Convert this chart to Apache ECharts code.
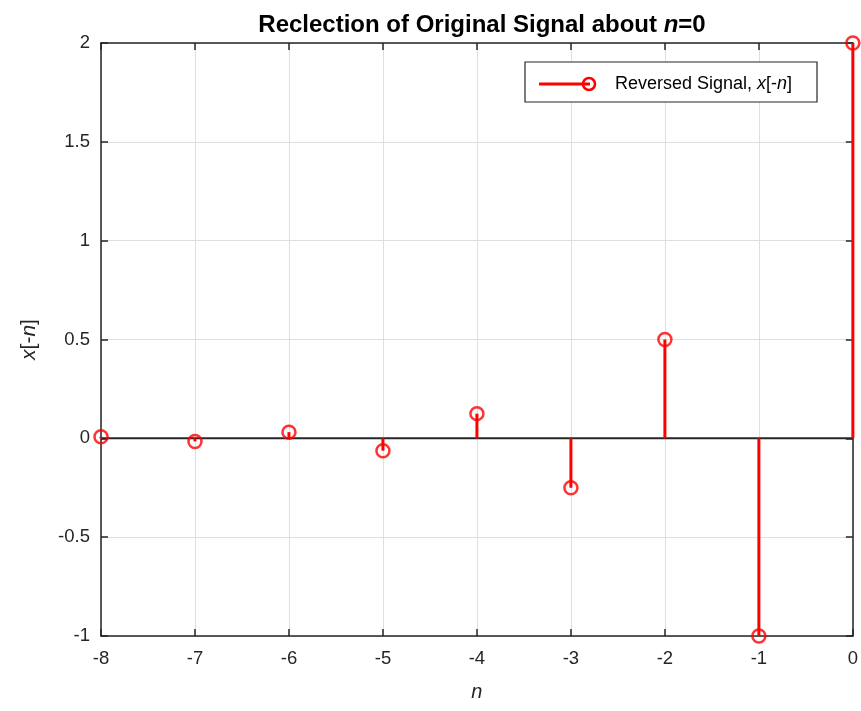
<!DOCTYPE html>
<html><head><meta charset="utf-8">
<script src="https://cdn.jsdelivr.net/npm/echarts@6/dist/echarts.min.js"></script>
<style>html,body{margin:0;padding:0;background:#fff}#c{width:861px;height:711px}</style>
</head><body><div id="c"></div>
<script>
const nValues = [-8, -7, -6, -5, -4, -3, -2, -1, 0];
const xValues = [0.0078, -0.0156, 0.0313, -0.0625, 0.125, -0.25, 0.5, -1, 2];
const xTicks = [-8, -7, -6, -5, -4, -3, -2, -1, 0];
const yTicks = [-1, -0.5, 0, 0.5, 1, 1.5, 2];
const legendLabel = 'Reversed Signal, ';

const FONT = '"Liberation Sans", Arial, sans-serif';
const AX = '#262626';
const RED = '#ff0000';
const pts = nValues.map((n, i) => [n, xValues[i]]);

const chart = echarts.init(document.getElementById('c'), null, {renderer: 'canvas'});
const axisCommon = {
  axisLine: {show: true, onZero: false, lineStyle: {color: AX, width: 1.5}},
  axisTick: {show: true, inside: true, length: 7, lineStyle: {color: AX, width: 1.5}},
  splitLine: {show: false}
};
chart.setOption({
  animation: false,
  backgroundColor: '#fff',
  title: {
    text: '{b|Reclection of Original Signal about }{bi|n}{b|=0}',
    left: 477, top: 8, textAlign: 'center',
    textStyle: {rich: {
      b: {fontFamily: FONT, fontWeight: 'bold', fontSize: 24, color: '#000'},
      bi: {fontFamily: FONT, fontWeight: 'bold', fontStyle: 'italic', fontSize: 24, color: '#000'}
    }}
  },
  grid: {left: 101, right: 8, top: 43, bottom: 75, containLabel: false},
  xAxis: [
    Object.assign({
      type: 'value', min: -8, max: 0, interval: 1, position: 'bottom',
      axisLabel: {color: AX, fontFamily: FONT, fontSize: 18.5, margin: 13},
      splitLine: {show: true, lineStyle: {color: '#dfdfdf', width: 1}},
      name: 'n', nameLocation: 'middle', nameGap: 46,
      nameTextStyle: {fontFamily: FONT, fontSize: 20, fontStyle: 'italic', color: AX}
    }, {axisLine: axisCommon.axisLine, axisTick: axisCommon.axisTick}),
    Object.assign({
      type: 'value', min: -8, max: 0, interval: 1, position: 'top',
      axisLabel: {show: false}
    }, axisCommon)
  ],
  yAxis: [
    Object.assign({
      type: 'value', min: -1, max: 2, interval: 0.5, position: 'left',
      axisLabel: {color: AX, fontFamily: FONT, fontSize: 18.5, margin: 11},
      splitLine: {show: true, lineStyle: {color: '#dfdfdf', width: 1}},
      name: '{i|x}{r|[-}{i|n}{r|]}', nameLocation: 'middle', nameGap: 61, nameRotate: 90,
      nameTextStyle: {rich: {
        i: {fontFamily: FONT, fontSize: 21, fontStyle: 'italic', color: AX},
        r: {fontFamily: FONT, fontSize: 21, color: AX}
      }}
    }, {axisLine: axisCommon.axisLine, axisTick: axisCommon.axisTick}),
    Object.assign({
      type: 'value', min: -1, max: 2, interval: 0.5, position: 'right',
      axisLabel: {show: false}
    }, axisCommon)
  ],
  series: [
    {
      type: 'line', data: [[-8, 0], [0, 0]], symbol: 'none',
      lineStyle: {color: AX, width: 2}, z: 3, silent: true
    },
    {
      type: 'custom', data: pts, z: 4,
      renderItem: function (params, api) {
        const p0 = api.coord([api.value(0), 0]);
        const p1 = api.coord([api.value(0), api.value(1)]);
        return {type: 'line', shape: {x1: p0[0], y1: p0[1], x2: p1[0], y2: p1[1]},
          style: {stroke: RED, lineWidth: 3}};
      }
    },
    {
      type: 'scatter', data: pts, symbol: 'circle', symbolSize: 13, z: 5,
      itemStyle: {color: 'rgba(0,0,0,0)', borderColor: RED, borderWidth: 2.5}
    }
  ],
  graphic: [
    {type: 'rect', shape: {x: 525, y: 62, width: 292, height: 40},
      style: {fill: '#fff', stroke: AX, lineWidth: 1.2}, z: 100},
    {type: 'line', shape: {x1: 539, y1: 84, x2: 590, y2: 84},
      style: {stroke: RED, lineWidth: 3}, z: 101},
    {type: 'circle', shape: {cx: 589, cy: 84, r: 6},
      style: {fill: 'none', stroke: RED, lineWidth: 2.5}, z: 102},
    {type: 'text', x: 615, y: 84, z: 103,
      style: {text: '{r|' + legendLabel + '}{i|x}{r|[-}{i|n}{r|]}', verticalAlign: 'middle',
        rich: {
          r: {fontFamily: FONT, fontSize: 18, fill: '#000'},
          i: {fontFamily: FONT, fontSize: 18, fontStyle: 'italic', fill: '#000'}
        }}}
  ]
});
</script></body></html>
